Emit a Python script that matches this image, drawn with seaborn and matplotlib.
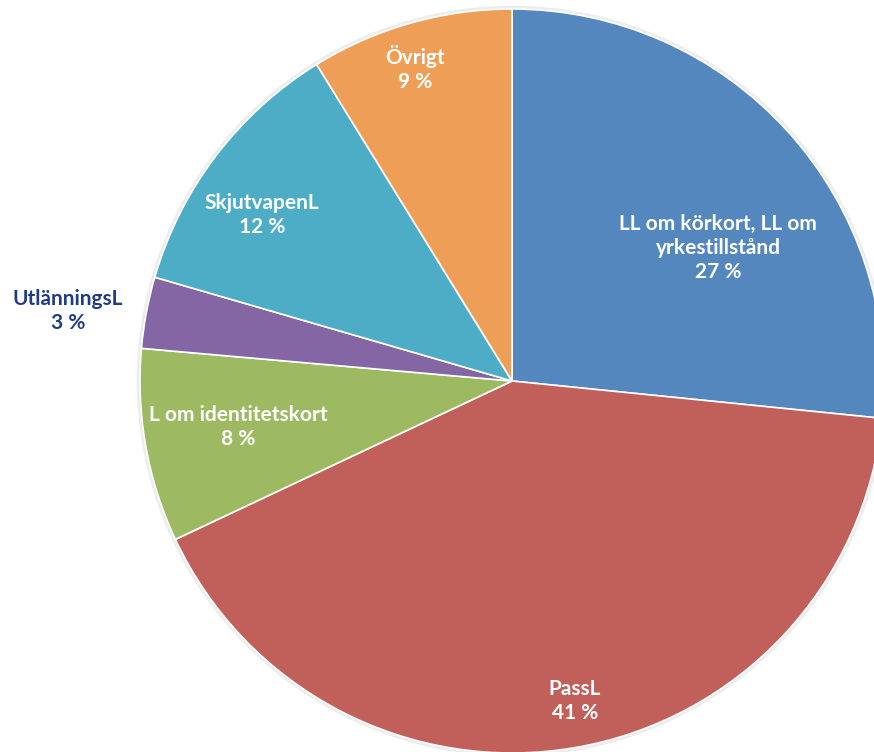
import numpy as np
import matplotlib
matplotlib.use("Agg")
import matplotlib.pyplot as plt
import seaborn as sns
from matplotlib.patches import Circle

sns.set_theme(style="white")
plt.rcParams['font.family'] = ['Lato', 'DejaVu Sans']

# Data (clockwise from 12 o'clock)
categories = ["LL om körkort, LL om\nyrkestillstånd", "PassL", "L om identitetskort",
              "UtlänningsL", "SkjutvapenL", "Övrigt"]
shares = [26.6, 41.4, 8.4, 3.1, 11.7, 8.8]
pct_labels = ["27 %", "41 %", "8 %", "3 %", "12 %", "9 %"]

colors = ["#5387BD", "#C1605A", "#9DBA62", "#8466A4", "#4DADC6", "#EE9E56"]
text_colors = ["white", "white", "white", "#203C84", "white", "white"]
# label centres in axis units (pie radius = 1)
label_pos = [(0.554, 0.358), (0.169, -0.860), (-0.737, -0.124),
             (-1.194, 0.188), (-0.672, 0.446), (-0.261, 0.841)]

fig = plt.figure(figsize=(8.74, 7.52), dpi=100)
ax = fig.add_axes([0, 0, 1, 1])

# faint shadow ring behind the pie
ax.add_patch(Circle((0, 0), 1.003, facecolor="none", edgecolor="#ececec", lw=3, zorder=0))

wedges, _ = ax.pie(shares, colors=colors, startangle=90, counterclock=False,
                   radius=1, wedgeprops=dict(edgecolor="white", linewidth=1.2))

for name, pct, (x, y), c in zip(categories, pct_labels, label_pos, text_colors):
    ax.text(x, y, f"{name}\n{pct}", ha="center", va="center", color=c,
            fontsize=15, fontweight="bold", linespacing=1.25)

ax.set_aspect("auto")
ax.set_xlim(-512 / 372, (874 - 512) / 372)
ax.set_ylim(-371 / 372, 381 / 372)
ax.axis("off")

fig.savefig("out.png", dpi=100, facecolor="white")
